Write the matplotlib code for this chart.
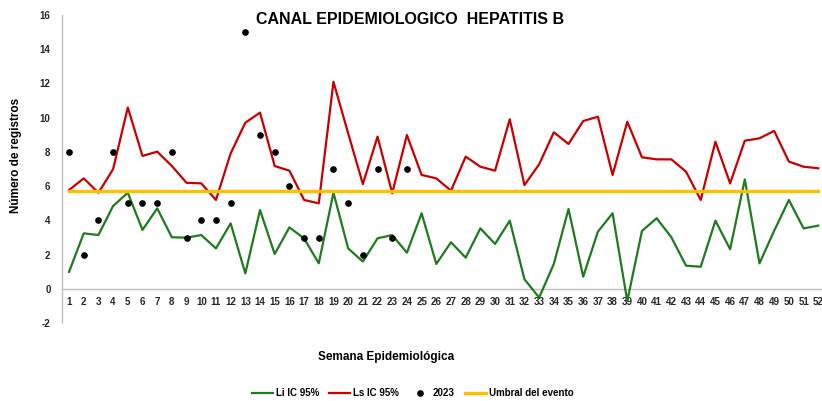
import matplotlib
matplotlib.use("Agg")
import matplotlib.pyplot as plt
import numpy as np

plt.rcParams['font.family'] = ['Liberation Sans Narrow', 'Liberation Sans', 'DejaVu Sans']
plt.rcParams['font.weight'] = 'bold'
plt.rcParams['axes.unicode_minus'] = False

# semanas epidemiologicas
weeks = list(range(1, 53))

# limite inferior IC 95%
li_ic95 = [1.0, 3.25, 3.15, 4.85, 5.62, 3.45, 4.71, 3.02, 3.0, 3.15,
           2.37, 3.83, 0.91, 4.61, 2.04, 3.6, 2.95, 1.5, 5.62, 2.37,
           1.6, 2.96, 3.15, 2.12, 4.42, 1.46, 2.73, 1.83, 3.54, 2.63,
           3.99, 0.57, -0.5, 1.46, 4.67, 0.72, 3.35, 4.42, -0.7, 3.39,
           4.13, 3.02, 1.36, 1.3, 3.99, 2.32, 6.4, 1.5, 3.4, 5.2,
           3.54, 3.7]

# limite superior IC 95%
ls_ic95 = [5.78, 6.46, 5.62, 7.0, 10.6, 7.77, 8.02, 7.18, 6.2, 6.17,
           5.2, 7.92, 9.71, 10.3, 7.18, 6.91, 5.2, 5.0, 12.1, 9.09,
           6.13, 8.9, 5.59, 8.99, 6.66, 6.46, 5.74, 7.73, 7.14, 6.91,
           9.91, 6.07, 7.28, 9.15, 8.47, 9.81, 10.06, 6.66, 9.77, 7.69,
           7.57, 7.57, 6.85, 5.2, 8.6, 6.17, 8.66, 8.8, 9.23, 7.44,
           7.14, 7.05]

# casos 2023 (semanas 1-24)
casos_2023 = [8, 2, 4, 8, 5, 5, 5, 8, 3, 4, 4, 5, 15, 9, 8, 6, 3, 3, 7, 5,
              2, 7, 3, 7]

umbral = 5.7

fig = plt.figure(figsize=(8.22, 4.01), dpi=100)
ax = fig.add_axes([61.7 / 822, 0.1939, 763.9 / 822, 0.7687])

ax.plot(weeks, li_ic95, color='#1e7b1e', lw=1.6, label='Li IC 95%', zorder=3)
ax.plot(weeks, ls_ic95, color='#c80000', lw=1.6, label='Ls IC 95%', zorder=3)
ax.plot(weeks[:len(casos_2023)], casos_2023, 'o', color='black', ms=3.8,
        label='2023', zorder=5)
ax.plot(weeks, [umbral] * len(weeks), color='#ffc000', lw=2.4,
        label='Umbral del evento', zorder=4)

ax.set_xlim(0.5, 52.5)
ax.set_ylim(-2, 16)
ax.set_yticks(range(-2, 17, 2))
ax.set_xticks(weeks)
ax.tick_params(axis='both', length=0, labelsize=7, colors='#262626')
ax.tick_params(axis='x', pad=6)
ax.tick_params(axis='y', pad=8)

for s in ['top', 'right']:
    ax.spines[s].set_visible(False)
ax.spines['left'].set_color('#bfbfbf')
ax.spines['bottom'].set_color('#bfbfbf')
ax.spines['bottom'].set_position(('data', 0))
ax.spines['left'].set_linewidth(1.0)
ax.spines['bottom'].set_linewidth(1.0)

fig.text(0.499, 0.952, 'CANAL EPIDEMIOLOGICO  HEPATITIS B', ha='center',
         va='center', fontsize=11.5, fontweight='bold')
fig.text(0.019, 0.613, 'Número de registros', rotation=90, ha='center',
         va='center', fontsize=8.5, fontweight='bold')
fig.text(0.47, 0.11, 'Semana Epidemiológica', ha='center', va='center',
         fontsize=8.5, fontweight='bold')

handles, labels = ax.get_legend_handles_labels()
fig.legend(handles, labels, loc='center', bbox_to_anchor=(0.502, 0.02),
           ncol=4, frameon=False, fontsize=7, handlelength=2.2,
           columnspacing=1.0, handletextpad=0.3)

fig.savefig('out.png', dpi=100)
